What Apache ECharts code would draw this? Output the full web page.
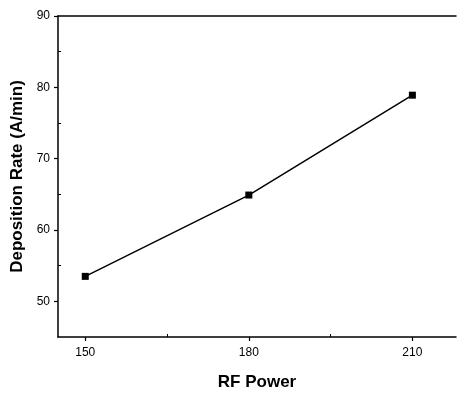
<!DOCTYPE html>
<html>
<head>
<meta charset="utf-8">
<script src="https://cdn.jsdelivr.net/npm/echarts@6/dist/echarts.min.js"></script>
<style>
  html, body { margin: 0; padding: 0; background: #fff; }
  #chart { width: 457px; height: 396px; }
</style>
</head>
<body>
<div id="chart"></div>
<script>
// data
const rfPower = [150, 180, 210];
const depRate = [53.5, 64.9, 78.9];
const xTicks = [150, 180, 210];
const xMinorTicks = [165, 195];
const yTicks = [50, 60, 70, 80, 90];
const yMinorTicks = [55, 65, 75, 85];

const font = 'Liberation Sans, Arial, sans-serif';
const chart = echarts.init(document.getElementById('chart'), null, { renderer: 'canvas' });

const option = {
  backgroundColor: '#fff',
  animation: false,
  grid: { left: 58, right: 1, top: 16, bottom: 57 },
  xAxis: [{
    type: 'value',
    min: 145,
    max: 218,
    name: 'RF Power',
    nameLocation: 'middle',
    nameGap: 37,
    nameTextStyle: { fontFamily: font, fontSize: 17, fontWeight: 'bold', color: '#000' },
    splitLine: { show: false },
    axisLine: { lineStyle: { color: '#000', width: 1.5 } },
    axisTick: { customValues: xTicks, length: 4, lineStyle: { color: '#000', width: 1.2 } },
    axisLabel: { customValues: xTicks, margin: 10, fontFamily: font, fontSize: 12, color: '#000' }
  }, {
    // minor ticks
    type: 'value', min: 145, max: 218, position: 'bottom',
    splitLine: { show: false },
    axisLine: { show: false },
    axisTick: { customValues: xMinorTicks, inside: true, length: 3, lineStyle: { color: '#000' } },
    axisLabel: { show: false }
  }, {
    // top frame line
    type: 'value', min: 145, max: 218, position: 'top',
    splitLine: { show: false },
    axisLine: { lineStyle: { color: '#000', width: 1.5 } },
    axisTick: { show: false },
    axisLabel: { show: false }
  }],
  yAxis: [{
    type: 'value',
    min: 45,
    max: 90,
    name: 'Deposition Rate (A/min)',
    nameLocation: 'middle',
    nameGap: 30,
    nameTextStyle: { fontFamily: font, fontSize: 17, fontWeight: 'bold', color: '#000' },
    splitLine: { show: false },
    axisLine: { lineStyle: { color: '#000', width: 1.5 } },
    axisTick: { customValues: yTicks, length: 4, lineStyle: { color: '#000', width: 1.2 } },
    axisLabel: { customValues: yTicks, margin: 8, fontFamily: font, fontSize: 12, color: '#000' }
  }, {
    type: 'value', min: 45, max: 90, position: 'left',
    splitLine: { show: false },
    axisLine: { show: false },
    axisTick: { customValues: yMinorTicks, inside: true, length: 3, lineStyle: { color: '#000' } },
    axisLabel: { show: false }
  }],
  series: [{
    type: 'line',
    data: rfPower.map((x, i) => [x, depRate[i]]),
    symbol: 'rect',
    symbolSize: 7,
    lineStyle: { color: '#000', width: 1.5 },
    itemStyle: { color: '#000' }
  }]
};

chart.setOption(option);
</script>
</body>
</html>
